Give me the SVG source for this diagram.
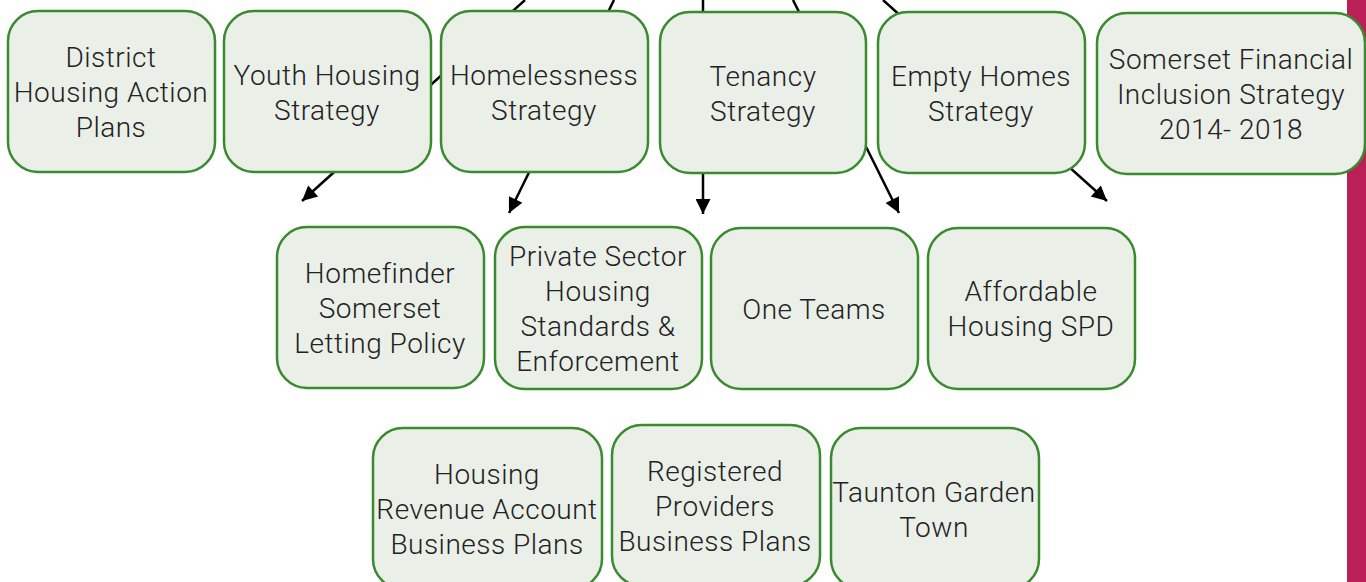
<svg xmlns="http://www.w3.org/2000/svg" width="1366" height="582" viewBox="0 0 1366 582">
<style>
.box{fill:#EAEFE8;stroke:#3A8A2E;stroke-width:2.5}
.t{font-family:Roboto,"Liberation Sans",sans-serif;font-weight:300;font-size:28px;letter-spacing:0.5px;fill:#222;text-anchor:middle}
.c{stroke:#000;stroke-width:2.5;fill:none;marker-end:url(#ah)}
</style>
<defs>
<marker id="ah" viewBox="0 0 10 10" refX="10" refY="5" markerWidth="7" markerHeight="6" markerUnits="strokeWidth" orient="auto">
<path d="M0,0 L10,5 L0,10 z" fill="#000"/>
</marker>
</defs>
<rect x="1347" y="0" width="19" height="582" fill="#BA1F55"/>
<g id="connectors">
<line class="c" x1="525" y1="0" x2="302" y2="201"/>
<line class="c" x1="614" y1="0" x2="509" y2="213"/>
<line class="c" x1="703" y1="0" x2="703" y2="214"/>
<line class="c" x1="793" y1="0" x2="899" y2="213"/>
<line class="c" x1="883" y1="0" x2="1107" y2="201"/>
</g>
<g id="district"><rect class="box" x="8" y="11" width="207" height="161" rx="30"/><text class="t" x="111" y="67">District</text><text class="t" x="111" y="102">Housing Action</text><text class="t" x="111" y="137">Plans</text></g>
<g id="youth"><rect class="box" x="224" y="11" width="207" height="161" rx="30"/><text class="t" x="327" y="85">Youth Housing</text><text class="t" x="327" y="120">Strategy</text></g>
<g id="homelessness"><rect class="box" x="441" y="11" width="207" height="161" rx="30"/><text class="t" x="544" y="85">Homelessness</text><text class="t" x="544" y="120">Strategy</text></g>
<g id="tenancy"><rect class="box" x="660" y="12" width="206" height="161" rx="30"/><text class="t" x="763" y="86">Tenancy</text><text class="t" x="763" y="121">Strategy</text></g>
<g id="emptyhomes"><rect class="box" x="878" y="12" width="207" height="161" rx="30"/><text class="t" x="981" y="86">Empty Homes</text><text class="t" x="981" y="121">Strategy</text></g>
<g id="financial"><rect class="box" x="1097" y="13" width="268" height="161" rx="30"/><text class="t" x="1231" y="69">Somerset Financial</text><text class="t" x="1231" y="104">Inclusion Strategy</text><text class="t" x="1231" y="139">2014- 2018</text></g>
<g id="homefinder"><rect class="box" x="277" y="227" width="207" height="161" rx="30"/><text class="t" x="380" y="283">Homefinder</text><text class="t" x="380" y="318">Somerset</text><text class="t" x="380" y="353">Letting Policy</text></g>
<g id="privatesector"><rect class="box" x="495" y="227" width="207" height="162" rx="30"/><text class="t" x="598" y="266">Private Sector</text><text class="t" x="598" y="301">Housing</text><text class="t" x="598" y="336">Standards &amp;</text><text class="t" x="598" y="371">Enforcement</text></g>
<g id="oneteams"><rect class="box" x="711" y="228" width="207" height="161" rx="30"/><text class="t" x="814" y="319">One Teams</text></g>
<g id="affordable"><rect class="box" x="928" y="228" width="207" height="161" rx="30"/><text class="t" x="1031" y="301">Affordable</text><text class="t" x="1031" y="336">Housing SPD</text></g>
<g id="hra"><rect class="box" x="373" y="428" width="229" height="161" rx="30"/><text class="t" x="487" y="484">Housing</text><text class="t" x="487" y="519">Revenue Account</text><text class="t" x="487" y="554">Business Plans</text></g>
<g id="registered"><rect class="box" x="612" y="425" width="208" height="161" rx="30"/><text class="t" x="715" y="481">Registered</text><text class="t" x="715" y="516">Providers</text><text class="t" x="715" y="551">Business Plans</text></g>
<g id="taunton"><rect class="box" x="831" y="428" width="208" height="161" rx="30"/><text class="t" x="934" y="502">Taunton Garden</text><text class="t" x="934" y="537">Town</text></g>
</svg>
